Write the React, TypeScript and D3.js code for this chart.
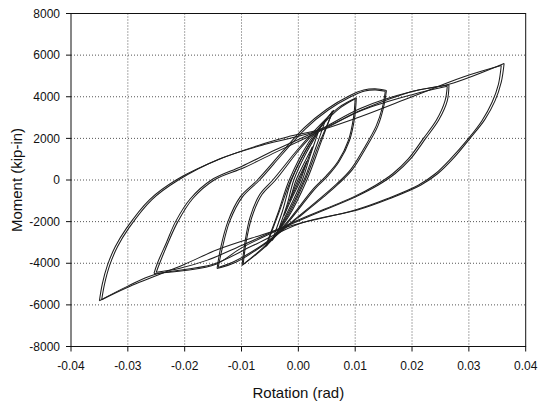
import React from 'react';
import * as d3 from 'd3';

type Pt = [number, number];

const xTicks = [-0.04, -0.03, -0.02, -0.01, 0, 0.01, 0.02, 0.03, 0.04];
const xTickLabels = ['-0.04', '-0.03', '-0.02', '-0.01', '0.00', '0.01', '0.02', '0.03', '0.04'];
const yTicks = [-8000, -6000, -4000, -2000, 0, 2000, 4000, 6000, 8000];
const yTickLabels = ['-8000', '-6000', '-4000', '-2000', '0', '2000', '4000', '6000', '8000'];
const xTitle = 'Rotation (rad)';
const yTitle = 'Moment (kip-in)';

// elastic cycles (rotation rad, moment kip-in)
const e1Up: Pt[] = [[-0.0015, -1000], [-0.0004, -200], [0.0015, 900]];
const e1Down: Pt[] = [[0.0015, 900], [0.0004, 150], [-0.0015, -1000]];
const e2Up: Pt[] = [[-0.0025, -1700], [-0.0012, -700], [-0.0004, 0], [0.001, 800], [0.0025, 1600]];
const e2Down: Pt[] = [[0.0025, 1600], [0.0013, 700], [0.0004, 0], [-0.001, -800], [-0.0025, -1700]];
const e3Up: Pt[] = [[-0.0035, -2400], [-0.002, -1200], [-0.0008, 0], [0.0012, 1200], [0.0035, 2300]];
const e3Down: Pt[] = [[0.0035, 2300], [0.002, 1100], [0.0007, 0], [-0.0013, -1200], [-0.0035, -2400]];
const e4Up: Pt[] = [[-0.0046, -2900], [-0.0028, -1500], [-0.0012, 0], [0.0015, 1500], [0.0048, 2900]];
const e4Down: Pt[] = [[0.0048, 2900], [0.003, 1500], [0.001, 0], [-0.0016, -1500], [-0.0046, -2900]];
const e5Up: Pt[] = [[-0.0058, -3220], [-0.0036, -1600], [-0.0016, 0], [0.0018, 1800], [0.0062, 3350]];
const e5Down: Pt[] = [[0.0062, 3350], [0.0036, 1700], [0.0012, 0], [-0.002, -1800], [-0.0058, -3220]];
const e5bUp: Pt[] = [[-0.0056, -3150], [-0.0034, -1550], [-0.0013, 0], [0.002, 1750], [0.006, 3300]];
const e5bDown: Pt[] = [[0.006, 3300], [0.0039, 1750], [0.0015, 0], [-0.0017, -1750], [-0.0056, -3150]];

// 0.01 rad cycles
const c10aUp: Pt[] = [[-0.0099, -4100], [-0.0094, -3000], [-0.0085, -1800], [-0.0068, -700], [-0.0045, 0], [0.0, 1500], [0.004, 2700], [0.0072, 3500], [0.0102, 3950]];
const c10aDown: Pt[] = [[0.0102, 3950], [0.0099, 3000], [0.009, 1900], [0.0072, 900], [0.0052, 200], [0.003, -400], [-0.002, -2100], [-0.006, -3250], [-0.0099, -4100]];
const c10bUp: Pt[] = [[-0.0097, -4050], [-0.0092, -3000], [-0.0082, -1800], [-0.0064, -700], [-0.004, 0], [0.0003, 1500], [0.0042, 2650], [0.0073, 3450], [0.01, 3900]];
const c10bDown: Pt[] = [[0.01, 3900], [0.0097, 3000], [0.0088, 1900], [0.007, 900], [0.0049, 200], [0.0027, -400], [-0.0022, -2100], [-0.0062, -3250], [-0.0097, -4050]];

// 0.015 rad cycles
const c15aUp: Pt[] = [[-0.0143, -4250], [-0.0137, -3300], [-0.0124, -2000], [-0.0102, -800], [-0.0072, 0], [-0.003, 1300], [0.001, 2500], [0.005, 3400], [0.009, 4050], [0.0115, 4320], [0.0135, 4380], [0.0155, 4300]];
const c15aDown: Pt[] = [[0.0155, 4300], [0.015, 3500], [0.014, 2600], [0.0118, 1500], [0.0095, 500], [0.007, -200], [0.0045, -800], [0.0, -1800], [-0.006, -3100], [-0.011, -3950], [-0.0143, -4250]];
const c15bUp: Pt[] = [[-0.0141, -4200], [-0.0134, -3300], [-0.0121, -2000], [-0.0098, -800], [-0.0068, 0], [-0.0028, 1250], [0.0012, 2450], [0.0052, 3350], [0.0092, 4000], [0.0117, 4280], [0.0136, 4330], [0.0153, 4260]];
const c15bDown: Pt[] = [[0.0153, 4260], [0.0148, 3500], [0.0137, 2600], [0.0115, 1500], [0.0092, 500], [0.0067, -200], [0.0042, -800], [-0.0002, -1800], [-0.0062, -3100], [-0.0112, -3900], [-0.0141, -4200]];

// 0.025 rad cycles
const c25aUp: Pt[] = [[-0.0254, -4490], [-0.0248, -4000], [-0.0232, -3000], [-0.0216, -2000], [-0.019, -900], [-0.0153, 0], [-0.01, 650], [-0.004, 1450], [0.004, 2450], [0.011, 3450], [0.02, 4250], [0.0265, 4560]];
const c25aDown: Pt[] = [[0.0265, 4560], [0.0262, 3800], [0.0247, 2880], [0.0224, 2000], [0.0197, 1000], [0.017, 300], [0.014, -250], [0.0101, -800], [0.0004, -1920], [-0.0099, -3250], [-0.0145, -4050], [-0.02, -4350], [-0.0254, -4490]];
const c25bUp: Pt[] = [[-0.025, -4430], [-0.0244, -4000], [-0.0229, -3000], [-0.0212, -2000], [-0.0186, -900], [-0.0148, 0], [-0.0095, 600], [-0.0035, 1400], [0.0042, 2400], [0.0112, 3350], [0.02, 4100], [0.0262, 4500]];
const c25bDown: Pt[] = [[0.0262, 4500], [0.0258, 3800], [0.0243, 2880], [0.022, 2000], [0.0193, 1000], [0.0166, 300], [0.0136, -250], [0.0098, -800], [0.0002, -1900], [-0.01, -3150], [-0.016, -3850], [-0.021, -4250], [-0.025, -4430]];

// 0.035 rad cycles
const c35aUp: Pt[] = [[-0.035, -5800], [-0.0345, -5000], [-0.0336, -4100], [-0.0322, -3200], [-0.0302, -2300], [-0.0262, -950], [-0.0215, 0], [-0.0135, 1040], [-0.006, 1750], [-0.0018, 2080], [0.004, 2450], [0.011, 3350], [0.02, 4250], [0.0265, 4600], [0.0362, 5600]];
const c35aDown: Pt[] = [[0.0362, 5600], [0.0357, 4700], [0.0346, 3800], [0.0328, 2900], [0.0302, 2000], [0.0273, 1050], [0.0245, 300], [0.0215, -250], [0.016, -900], [0.0104, -1440], [0.0004, -2080], [-0.008, -3150], [-0.015, -4050], [-0.0254, -4550], [-0.03, -5100], [-0.035, -5800]];
const c35bUp: Pt[] = [[-0.0346, -5750], [-0.0341, -5000], [-0.0332, -4100], [-0.0318, -3200], [-0.0298, -2300], [-0.0258, -950], [-0.0211, 0], [-0.014, 1000], [-0.006, 1700], [0.0, 2100], [0.004, 2400], [0.011, 3050], [0.02, 4000], [0.029, 4950], [0.0357, 5500]];
const c35bDown: Pt[] = [[0.0357, 5500], [0.0352, 4600], [0.0341, 3750], [0.0323, 2850], [0.0298, 1950], [0.0269, 1050], [0.0241, 300], [0.0211, -250], [0.0156, -900], [0.01, -1440], [0.0, -2100], [-0.0066, -2650], [-0.0143, -3350], [-0.02, -4050], [-0.03, -5150], [-0.0346, -5750]];

const branches: Pt[][] = [
  e1Up, e1Down, e2Up, e2Down, e3Up, e3Down, e4Up, e4Down, e5Up, e5Down, e5bUp, e5bDown,
  c10aUp, c10aDown, c10bUp, c10bDown,
  c15aUp, c15aDown, c15bUp, c15bDown,
  c25aUp, c25aDown, c25bUp, c25bDown,
  c35aUp, c35aDown, c35bUp, c35bDown,
];

export default function App() {
  const W = 538, H = 404;
  const left = 71, right = 525.7, top = 13.5, bottom = 346.5;
  const x = d3.scaleLinear().domain([-0.04, 0.04]).range([left, right]);
  const y = d3.scaleLinear().domain([-8000, 8000]).range([bottom, top]);
  const line = d3.line<Pt>().x(d => x(d[0])).y(d => y(d[1])).curve(d3.curveCatmullRom.alpha(0.5));
  const font = 'Arial, "Liberation Sans", sans-serif';
  return (
    <svg width={W} height={H} style={{ position: 'absolute', left: 0, top: 0, background: '#fff' }}>
      <defs>
        <clipPath id="plot"><rect x={left} y={top} width={right - left} height={bottom - top} /></clipPath>
      </defs>
      {xTicks.slice(1, -1).map((t, i) => (
        <line key={'gx' + i} x1={x(t)} x2={x(t)} y1={top} y2={bottom} stroke="#555" strokeWidth={1} strokeDasharray="1,2" />
      ))}
      {yTicks.slice(1, -1).map((t, i) => (
        <line key={'gy' + i} x1={left} x2={right} y1={y(t)} y2={y(t)} stroke="#555" strokeWidth={1} strokeDasharray="1,2" />
      ))}
      <g clipPath="url(#plot)">
        {branches.map((b, i) => (
          <path key={'b' + i} d={line(b) || ''} fill="none" stroke="#1e1e1e" strokeWidth={1.05} />
        ))}
      </g>
      <rect x={left} y={top} width={right - left} height={bottom - top} fill="none" stroke="#111" strokeWidth={1} />
      {yTicks.map((t, i) => (
        <g key={'yt' + i}>
          <line x1={left - 5} x2={left} y1={y(t)} y2={y(t)} stroke="#111" />
          <text x={left - 11} y={y(t)} dy="0.35em" textAnchor="end" fontFamily={font} fontSize={12} fill="#111">{yTickLabels[i]}</text>
        </g>
      ))}
      {xTicks.map((t, i) => (
        <g key={'xt' + i}>
          <line x1={x(t)} x2={x(t)} y1={bottom} y2={bottom + 5} stroke="#111" />
          <text x={x(t)} y={bottom + 23} textAnchor="middle" fontFamily={font} fontSize={12} fill="#111">{xTickLabels[i]}</text>
        </g>
      ))}
      <text x={(left + right) / 2} y={398} textAnchor="middle" fontFamily={font} fontSize={15} fill="#111">{xTitle}</text>
      <text transform={`translate(22,${(top + bottom) / 2}) rotate(-90)`} textAnchor="middle" fontFamily={font} fontSize={15} fill="#111">{yTitle}</text>
    </svg>
  );
}
